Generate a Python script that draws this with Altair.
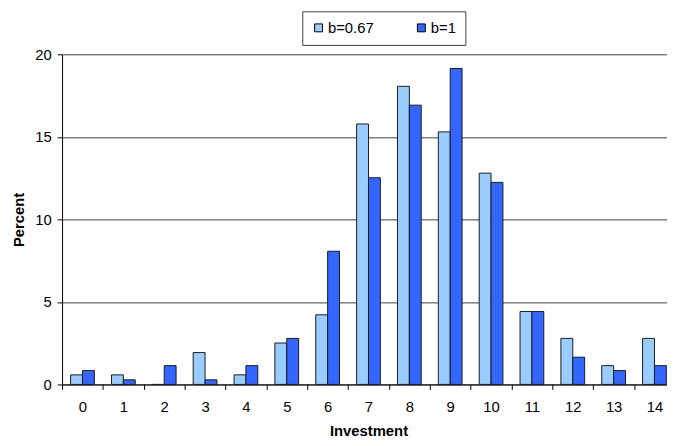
import altair as alt
import pandas as pd

investment = [str(i) for i in range(15)]
series = ["b=0.67", "b=1"]
b067 = [0.58, 0.58, 0.0, 1.93, 0.58, 2.51, 4.22, 15.78, 18.06, 15.30, 12.80, 4.42, 2.79, 1.14, 2.79]
b1 = [0.84, 0.28, 1.14, 0.28, 1.14, 2.79, 8.07, 12.52, 16.92, 19.14, 12.24, 4.42, 1.65, 0.84, 1.14]

rows = []
for i, inv in enumerate(investment):
    rows.append({"Investment": inv, "series": series[0], "Percent": b067[i]})
    rows.append({"Investment": inv, "series": series[1], "Percent": b1[i]})
df = pd.DataFrame(rows)

FONT = "Arial, Liberation Sans, sans-serif"

chart = alt.Chart(df).mark_bar(stroke="#1a1a1a", strokeWidth=1).encode(
    x=alt.X(
        "Investment:N", sort=investment,
        scale=alt.Scale(range=[0, 620], paddingInner=0, paddingOuter=0),
        axis=alt.Axis(
            title="Investment", labelAngle=0, tickBand="extent", grid=False,
            domainColor="black", tickColor="black", tickSize=5, labelPadding=10,
            labelFontSize=15, labelColor="black", titleFontSize=15, titleFontWeight="bold",
            titleColor="black", titleY=40, titleBaseline="top",
        ),
    ),
    xOffset=alt.XOffset("series:N", sort=series, scale=alt.Scale(paddingOuter=0.72, paddingInner=0)),
    y=alt.Y(
        "Percent:Q",
        scale=alt.Scale(domain=[0, 20], nice=False),
        axis=alt.Axis(
            title="Percent", values=[0, 5, 10, 15, 20], grid=True, gridColor="#404040", gridWidth=1,
            domainColor="black", tickColor="black", tickSize=5, labelPadding=6,
            labelFontSize=15, labelColor="black", titleFontSize=15, titleFontWeight="bold",
            titleColor="black", titleX=-39.4, titleY=167, titleBaseline="alphabetic", titleAngle=270,
        ),
    ),
    color=alt.Color(
        "series:N", sort=series,
        scale=alt.Scale(domain=series, range=["#99CCFF", "#3366FF"]),
        legend=alt.Legend(
            title=None, orient="none", legendX=243, legendY=-43.5, direction="horizontal",
            symbolType="square", symbolSize=64, symbolStrokeColor="black", symbolStrokeWidth=1,
            labelFontSize=15, labelOffset=2, labelColor="black", columnPadding=40, padding=9,
            strokeColor="#404040", fillColor="white",
        ),
    ),
).properties(
    width=612, height=334,
    autosize=alt.AutoSizeParams(type="none"),
    padding={"left": 54.7, "top": 44.3, "right": 0, "bottom": 58},
).configure(font=FONT).configure_view(stroke=None)

chart.save("out.html", embed_options={"renderer": "svg", "actions": False})
